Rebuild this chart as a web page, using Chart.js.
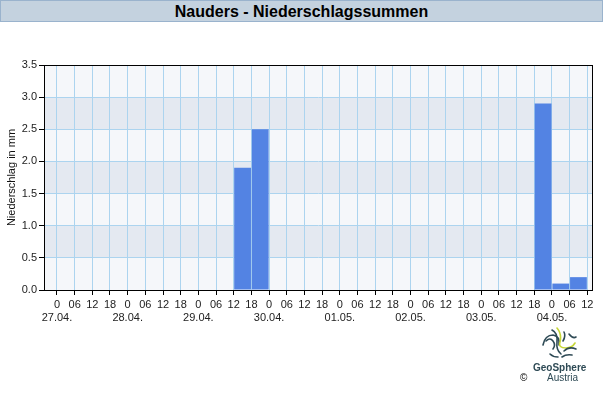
<!DOCTYPE html>
<html>
<head>
<meta charset="utf-8">
<script src="https://cdn.jsdelivr.net/npm/chart.js@4.4.1/dist/chart.umd.min.js"></script>
<style>
  html, body { margin: 0; padding: 0; background: #fff; }
  #wrap { position: relative; width: 603px; height: 400px; font-family: "Liberation Sans", Arial, sans-serif; }
  #chart { position: absolute; left: 0; top: 0; }
  .title-bar {
    position: absolute; left: 0; top: 0; width: 601px; height: 20px;
    background: #c4d2df; border: 1px solid #9ab3cd;
    text-align: center; font-weight: bold; font-size: 16px; line-height: 21px; color: #000;
  }
  .logo-text { position: absolute; color: #2e4a55; font-size: 10px; }
</style>
</head>
<body>
<div id="wrap">
  <canvas id="chart" width="603" height="400"></canvas>
  <div class="title-bar">Nauders - Niederschlagssummen</div>
  <svg style="position:absolute;left:540px;top:327px" width="40" height="34" viewBox="0 0 40 34">
    <g fill="none" stroke-width="1.6" stroke-linecap="round">
      <path d="M6 14 q4 -4 7 0 q3 4 0 8" stroke="#2e4a55"/>
      <path d="M3 18 q2 -10 10 -10 q7 1 6 10" stroke="#2e4a55"/>
      <path d="M12 3 q6 3 5 12 q-1 8 4 12" stroke="#2e4a55"/>
      <path d="M17 1 q5 6 3 14 q-2 6 6 6 q6 0 9 -5" stroke="#c6d636"/>
      <path d="M24 5 q2 4 -1 9" stroke="#2e4a55"/>
      <path d="M29 7 q4 5 7 3" stroke="#2e4a55"/>
      <path d="M24 24 q5 -5 12 -2" stroke="#2e4a55"/>
      <path d="M22 30 q4 -3 10 -2" stroke="#2e4a55"/>
      <path d="M10 27 q3 3 8 3" stroke="#2e4a55"/>
    </g>
  </svg>
  <div class="logo-text" style="left:533px;top:362px;font-weight:bold;">GeoSphere</div>
  <div class="logo-text" style="left:547px;top:372px;">Austria</div>
  <div class="logo-text" style="left:520px;top:372px;color:#000;">©</div>
</div>
<script>
// days shown on the x axis (one per 24 h, label under the "0" tick)
const dayLabels = ["27.04.", "28.04.", "29.04.", "30.04.", "01.05.", "02.05.", "03.05.", "04.05."];
// hour ticks, in hours from 27.04. 00:00
const hourTicks = [0, 6, 12, 18, 24, 30, 36, 42, 48, 54, 60, 66, 72, 78, 84, 90, 96, 102, 108, 114,
  120, 126, 132, 138, 144, 150, 156, 162, 168, 174, 180];
// precipitation (mm) per 6-hour interval, starting 27.04. 00-06
const precipMm = [
  0, 0, 0, 0,        // 27.04.
  0, 0, 0, 0,        // 28.04.
  0, 0, 1.9, 2.5,    // 29.04.
  0, 0, 0, 0,        // 30.04.
  0, 0, 0, 0,        // 01.05.
  0, 0, 0, 0,        // 02.05.
  0, 0, 0, 2.9,      // 03.05.
  0.1, 0.2           // 04.05.
];
const yTicks = [0, 0.5, 1, 1.5, 2, 2.5, 3, 3.5];

const points = precipMm.map((v, i) => ({ x: i * 6 + 3, y: v }));

const bandPlugin = {
  id: "bands",
  beforeDraw(chart) {
    const { ctx, chartArea: a, scales: { y } } = chart;
    ctx.save();
    for (let i = 0; i < yTicks.length - 1; i++) {
      const top = y.getPixelForValue(yTicks[i + 1]);
      const bottom = y.getPixelForValue(yTicks[i]);
      ctx.fillStyle = i % 2 ? "#e4e9f1" : "#f5f7fa";
      ctx.fillRect(a.left, top, a.right - a.left, bottom - top);
    }
    ctx.restore();
  },
  afterDraw(chart) {
    const { ctx, chartArea: a } = chart;
    ctx.save();
    ctx.strokeStyle = "#000";
    ctx.lineWidth = 1;
    ctx.strokeRect(Math.round(a.left) + 0.5, Math.round(a.top) + 0.5,
      Math.round(a.right - a.left), Math.round(a.bottom - a.top));
    ctx.restore();
  }
};

const tickFont = { family: "'Liberation Sans', Arial, sans-serif", size: 11, lineHeight: 1.2 };

new Chart(document.getElementById("chart"), {
  type: "bar",
  data: {
    datasets: [{
      data: points,
      backgroundColor: "#5383e3",
      borderWidth: 0,
      barPercentage: 0.95,
      categoryPercentage: 1
    }]
  },
  plugins: [bandPlugin],
  options: {
    responsive: false,
    animation: false,
    layout: { padding: { top: 65, right: 11, left: 0, bottom: 0 } },
    plugins: { legend: { display: false }, tooltip: { enabled: false } },
    scales: {
      x: {
        type: "linear",
        offset: false,
        min: -4.4,
        max: 181.6,
        afterBuildTicks(scale) {
          scale.ticks = hourTicks.map((v) => ({ value: v }));
        },
        afterFit(scale) {
          scale.height = 110;
          scale.paddingLeft = 0;
          scale.paddingRight = 0;
        },
        grid: { offset: false, color: "#acd4ef", tickColor: "#000", tickLength: 5, lineWidth: 1 },
        border: { color: "#000" },
        ticks: {
          autoSkip: false,
          maxRotation: 0,
          padding: 3,
          color: "#222",
          font: tickFont,
          callback(v) {
            const h = v % 24;
            if (h === 0) return ["0", dayLabels[v / 24]];
            return h < 10 ? "0" + h : String(h);
          }
        }
      },
      y: {
        min: 0,
        max: 3.5,
        afterBuildTicks(scale) {
          scale.ticks = yTicks.map((v) => ({ value: v }));
        },
        afterFit(scale) { scale.width = 44; },
        grid: { color: "#acd4ef", tickColor: "#000", tickLength: 5 },
        border: { color: "#000" },
        title: {
          display: true,
          text: "Niederschlag in mm",
          color: "#111",
          font: { family: "'Liberation Sans', Arial, sans-serif", size: 11 },
          padding: { top: 5, bottom: 0 }
        },
        ticks: {
          padding: 2,
          color: "#222",
          font: tickFont,
          callback(v) { return v.toFixed(1); }
        }
      }
    }
  }
});
</script>
</body>
</html>
